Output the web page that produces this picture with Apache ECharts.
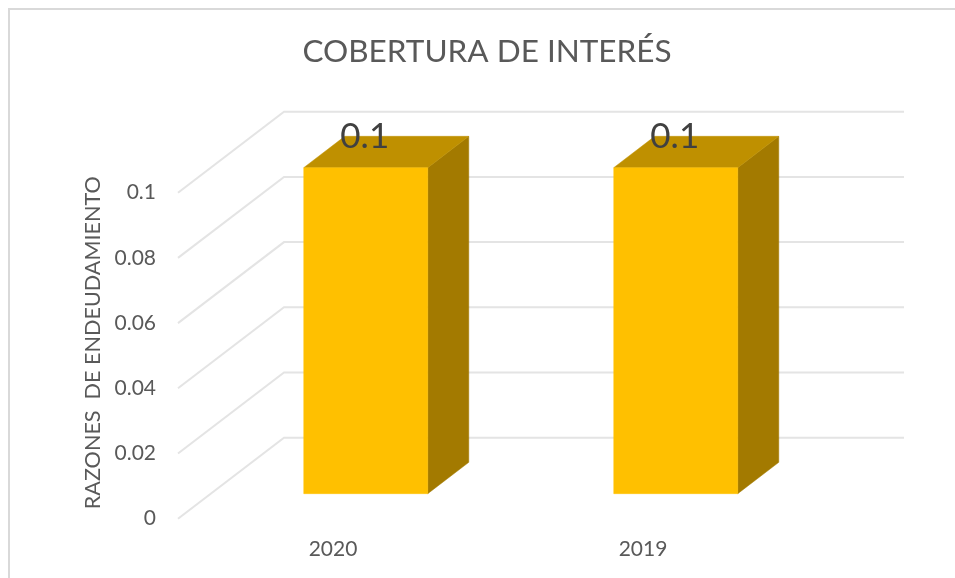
<!DOCTYPE html>
<html>
<head>
<meta charset="utf-8">
<style>html,body{margin:0;padding:0;background:#fff}#c{width:955px;height:578px}</style>
<script src="https://cdn.jsdelivr.net/npm/echarts@6/dist/echarts.min.js"></script>
</head>
<body>
<div id="c"></div>
<script>
const titleText = 'COBERTURA DE INTERÉS';
const yAxisTitle = 'RAZONES  DE ENDEUDAMIENTO';
const categories = ['2020', '2019'];
const seriesValues = [0.1, 0.1];
const yTicks = [0, 0.02, 0.04, 0.06, 0.08, 0.1];

// Oblique projection of the 3D floor depth, in pixels at full depth
const DEPTH_X = 106, DEPTH_Y = -81;
const BAR_FRONT = 0.309, BAR_BACK = 0.696, BAR_WIDTH = 0.4;
const FONT = 'Lato, "Open Sans", sans-serif';

const chart = echarts.init(document.getElementById('c'), null, { renderer: 'canvas' });
const project = (p, d) => [p[0] + d * DEPTH_X, p[1] + d * DEPTH_Y];
const poly = (points, fill) => ({
  type: 'polygon',
  shape: { points },
  style: { fill, stroke: fill, lineWidth: 0.5 }
});

chart.setOption({
  animation: false,
  backgroundColor: '#fff',
  title: {
    text: titleText,
    left: 482, top: 31, textAlign: 'center',
    textStyle: { fontFamily: FONT, fontSize: 31.5, fontWeight: 'normal', color: '#595959' }
  },
  graphic: [{
    type: 'rect', silent: true, z: -10,
    shape: { x: 9, y: 9, width: 1100, height: 1100 },
    style: { fill: 'none', stroke: '#d9d9d9', lineWidth: 2 }
  }],
  grid: { left: 178, width: 620, top: 192.7, height: 326 },
  xAxis: {
    type: 'category', data: categories,
    axisLine: { show: false }, axisTick: { show: false }, splitLine: { show: false },
    axisLabel: { margin: 20, fontFamily: FONT, fontSize: 21, color: '#595959' }
  },
  yAxis: {
    type: 'value', min: 0, max: 0.1, interval: 0.02,
    axisLine: { show: false }, axisTick: { show: false }, splitLine: { show: false },
    axisLabel: { margin: 22, fontFamily: FONT, fontSize: 21, color: '#595959' },
    name: yAxisTitle, nameLocation: 'middle', nameGap: 70,
    nameTextStyle: { fontFamily: FONT, fontSize: 21.6, color: '#595959', padding: [0, 0, 0, 26] }
  },
  series: [
    {
      type: 'custom', z: 1, silent: true,
      data: yTicks,
      encode: { y: 0 },
      renderItem(params, api) {
        const v = api.value(0);
        const band = api.size([1, 0])[0];
        const a = api.coord([0, v]); a[0] -= band / 2;
        const b = project(a, 1);
        const c = [b[0] + band * categories.length, b[1]];
        return {
          type: 'polyline',
          shape: { points: [a, b, c] },
          style: { fill: 'none', stroke: '#e4e4e4', lineWidth: 2 }
        };
      }
    },
    {
      type: 'custom', z: 2, silent: true,
      data: seriesValues.map((v, i) => [i, v]),
      encode: { x: 0, y: 1 },
      renderItem(params, api) {
        const i = api.value(0), v = api.value(1);
        const band = api.size([1, 0])[0];
        const hw = band * BAR_WIDTH / 2;
        const top = api.coord([i, v]), base = api.coord([i, 0]);
        const pt = (p, sx, d) => project([p[0] + sx * hw, p[1]], d);
        const ftl = pt(top, -1, BAR_FRONT), ftr = pt(top, 1, BAR_FRONT);
        const fbl = pt(base, -1, BAR_FRONT), fbr = pt(base, 1, BAR_FRONT);
        const btl = pt(top, -1, BAR_BACK), btr = pt(top, 1, BAR_BACK);
        const bbr = pt(base, 1, BAR_BACK);
        return {
          type: 'group',
          children: [
            poly([ftr, btr, bbr, fbr], '#A37A00'),
            poly([ftl, btl, btr, ftr], '#BF9000'),
            poly([ftl, ftr, fbr, fbl], '#FFC000'),
            {
              type: 'text',
              style: {
                x: (ftl[0] + ftr[0]) / 2 - 1, y: ftl[1] - 31,
                text: String(v), align: 'center', verticalAlign: 'middle',
                fontFamily: FONT, fontSize: 35, fill: '#404040'
              }
            }
          ]
        };
      }
    }
  ]
});
</script>
</body>
</html>
